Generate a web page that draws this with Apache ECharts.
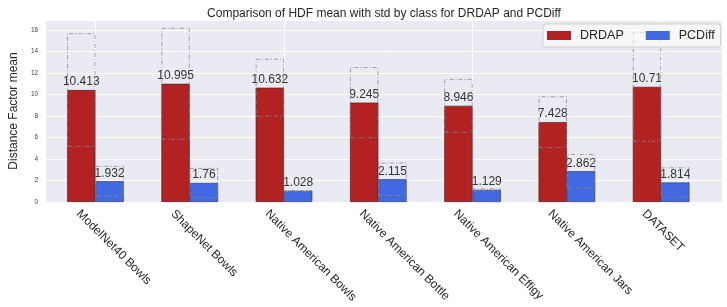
<!DOCTYPE html>
<html>
<head>
<meta charset="utf-8">
<script src="https://cdn.jsdelivr.net/npm/echarts@6/dist/echarts.min.js"></script>
<style>
html,body{margin:0;padding:0;background:#fff;}
#chart{width:727px;height:307px;}
</style>
</head>
<body>
<div id="chart"></div>
<script>
const categories = ["ModelNet40 Bowls","ShapeNet Bowls","Native American Bowls","Native American Bottle","Native American Effigy","Native American Jars","DATASET"];
const drdapMean = [10.413, 10.995, 10.632, 9.245, 8.946, 7.428, 10.71];
const drdapStd  = [5.28, 5.2, 2.68, 3.3, 2.5, 2.4, 5.1];
const pcdiffMean = [1.932, 1.76, 1.028, 2.115, 1.129, 2.862, 1.814];
const pcdiffStd  = [1.42, 1.4, 0.07, 1.55, 0.12, 1.6, 1.4];
const yTicks = [0, 2, 4, 6, 8, 10, 12, 14, 16];

const YMAX = 16.93;
const FONT = '"Liberation Sans", Arial, sans-serif';
const TXT = '#262626';
const BAR_W = 28.3;

const chart = echarts.init(document.getElementById('chart'), null, {renderer: 'canvas'});

const r3 = v => Math.round(v * 1000) / 1000;
const dBase = drdapMean.map((m, i) => r3(m - drdapStd[i]));
const dBox = drdapStd.map(s => r3(2 * s));
const pBase = pcdiffMean.map((m, i) => r3(m - pcdiffStd[i]));
const pBox = pcdiffStd.map(s => r3(2 * s));

const boxStyle = {
  color: 'rgba(0,0,0,0)',
  borderColor: '#8a8a8a',
  borderWidth: 0.8,
  borderType: [4, 2, 1, 2]
};

const option = {
  animation: false,
  textStyle: {fontFamily: FONT},
  title: {
    text: 'Comparison of HDF mean with std by class for DRDAP and PCDiff',
    left: 379, top: 3,
    textAlign: 'center',
    textStyle: {fontFamily: FONT, fontSize: 12, fontWeight: 'normal', color: TXT}
  },
  legend: {
    data: [{name: 'DRDAP', icon: 'rect'}, {name: 'PCDiff', icon: 'rect'}],
    left: 543, top: 24,
    padding: [5, 6, 5, 4],
    itemWidth: 24, itemHeight: 9, itemGap: 22,
    backgroundColor: 'rgba(255,255,255,0.6)',
    borderColor: '#d0d0d0', borderWidth: 1, borderRadius: 3,
    textStyle: {fontFamily: FONT, fontSize: 12.5, color: TXT, padding: [0, 0, 0, 4]},
    itemStyle: {borderWidth: 0}
  },
  grid: [
    {left: 36, right: 5, top: 20, bottom: 105, show: true, backgroundColor: '#EAEAF2', borderWidth: 0},
    {left: 48.3, right: 18.7, top: 20, bottom: 105},
    {left: 31.3, right: 35.7, top: 20, bottom: 105}
  ],
  xAxis: [
    {gridIndex: 0, type: 'value', min: 0, max: 1, show: false},
    {gridIndex: 1, type: 'category', data: categories,
      axisLine: {show: false}, axisLabel: {show: false},
      axisTick: {show: true, alignWithLabel: true, inside: true, length: 182, lineStyle: {color: '#ffffff', width: 1}},
      splitLine: {show: false}},
    {gridIndex: 1, type: 'category', data: categories, show: false},
    {gridIndex: 2, type: 'category', data: categories,
      axisLine: {show: false}, axisTick: {show: false},
      axisLabel: {rotate: -45, margin: 10, fontSize: 12, color: TXT, fontFamily: FONT, interval: 0}}
  ],
  yAxis: [
    {gridIndex: 0, type: 'value', min: 0, max: YMAX, interval: 2,
      axisLine: {show: false}, axisTick: {show: false},
      axisLabel: {fontSize: 6.5, color: '#444', margin: 8, fontFamily: FONT,
        formatter: v => (yTicks.indexOf(v) >= 0 ? String(v) : '')},
      splitLine: {show: true, lineStyle: {color: '#ffffff', width: 1}},
      name: 'Distance Factor mean', nameLocation: 'middle', nameGap: 18,
      nameTextStyle: {fontSize: 12, color: TXT, fontFamily: FONT}},
    {gridIndex: 1, type: 'value', min: 0, max: YMAX, show: false, splitLine: {show: false}},
    {gridIndex: 2, type: 'value', min: 0, max: YMAX, show: false, splitLine: {show: false}}
  ],
  series: [
    {name: 'DRDAP', type: 'bar', xAxisIndex: 1, yAxisIndex: 1, data: drdapMean,
      barWidth: BAR_W, barGap: '0%', z: 2,
      itemStyle: {color: '#B22222', borderColor: '#3a2020', borderWidth: 0.6},
      label: {show: true, position: 'top', distance: 2, fontSize: 12, color: '#333', fontFamily: FONT},
      emphasis: {disabled: true}},
    {name: 'PCDiff', type: 'bar', xAxisIndex: 1, yAxisIndex: 1, data: pcdiffMean,
      barWidth: BAR_W, barGap: '0%', z: 2,
      itemStyle: {color: '#4169E1', borderColor: '#2a3050', borderWidth: 0.6},
      label: {show: true, position: 'top', distance: 2, fontSize: 12, color: '#333', fontFamily: FONT},
      emphasis: {disabled: true}},
    {name: 'dBase', type: 'bar', xAxisIndex: 2, yAxisIndex: 1, stack: 'd', data: dBase,
      barWidth: BAR_W, barGap: '0%', silent: true, itemStyle: {color: 'rgba(0,0,0,0)'}, z: 3},
    {name: 'dBox', type: 'bar', xAxisIndex: 2, yAxisIndex: 1, stack: 'd', data: dBox,
      barWidth: BAR_W, barGap: '0%', silent: true, itemStyle: boxStyle, z: 3},
    {name: 'pBase', type: 'bar', xAxisIndex: 2, yAxisIndex: 1, stack: 'p', data: pBase,
      barWidth: BAR_W, barGap: '0%', silent: true, itemStyle: {color: 'rgba(0,0,0,0)'}, z: 3},
    {name: 'pBox', type: 'bar', xAxisIndex: 2, yAxisIndex: 1, stack: 'p', data: pBox,
      barWidth: BAR_W, barGap: '0%', silent: true, itemStyle: boxStyle, z: 3}
  ]
};
chart.setOption(option);
</script>
</body>
</html>
